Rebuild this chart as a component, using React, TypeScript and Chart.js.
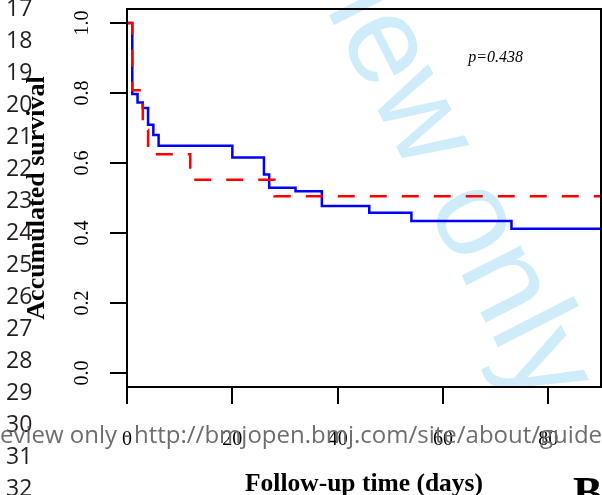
import React, { useEffect, useRef } from 'react';
import { Chart, registerables } from 'chart.js';

Chart.register(...registerables);

// ---- data ----
const blueTimes = [0, 1, 2, 3, 4, 5, 6, 20, 26, 27, 32, 37, 46, 54, 73, 90];
const blueSurvival = [1, 0.797, 0.773, 0.757, 0.709, 0.68, 0.649, 0.616, 0.567, 0.529, 0.519, 0.477, 0.458, 0.434, 0.412, 0.412];
const redTimes = [0, 1, 3, 4, 12, 28, 90];
const redSurvival = [1, 0.808, 0.694, 0.625, 0.552, 0.505, 0.505];
const xTicks = [0, 20, 40, 60, 80];
const yTicks = [0, 0.2, 0.4, 0.6, 0.8, 1.0];
const xTitle = 'Follow-up time (days)';
const yTitle = 'Accumulated survival';
const pLabel = 'p=0.438';
const pLabelX = 70;
const pLabelY = 0.9;
const lineNumbers = [17, 18, 19, 20, 21, 22, 23, 24, 25, 26, 27, 28, 29, 30, 31, 32];
const panelLetter = 'B';
const footerLeft = 'For peer review only -';
const footerRight = 'http://bmjopen.bmj.com/site/about/guidelines.xhtml';

const SERIF = '"Liberation Serif", "Times New Roman", serif';
const SANS = '"Open Sans", "Noto Sans", sans-serif';
const WM = '"Liberation Sans", Arial, sans-serif';

const boxPlugin = {
  id: 'boxAndText',
  afterDraw(chart: any) {
    const { ctx, chartArea, scales } = chart;
    ctx.save();
    ctx.strokeStyle = '#000';
    ctx.lineWidth = 2;
    ctx.strokeRect(chartArea.left, chartArea.top, chartArea.right - chartArea.left, chartArea.bottom - chartArea.top);
    ctx.font = `italic 16px ${SERIF}`;
    ctx.fillStyle = '#000';
    ctx.textAlign = 'center';
    ctx.textBaseline = 'middle';
    ctx.fillText(pLabel, scales.x.getPixelForValue(pLabelX), scales.y.getPixelForValue(pLabelY));
    ctx.restore();
  },
};

export default function App() {
  const canvasRef = useRef<HTMLCanvasElement | null>(null);

  useEffect(() => {
    if (!canvasRef.current) return;
    const chart = new Chart(canvasRef.current, {
      type: 'line',
      data: {
        datasets: [
          {
            label: 'red',
            data: redTimes.map((x, i) => ({ x, y: redSurvival[i] })),
            borderColor: '#ff0000',
            borderWidth: 2.5,
            borderDash: [17, 15],
            stepped: 'before',
            pointRadius: 0,
            fill: false,
            order: 0,
          },
          {
            label: 'blue',
            data: blueTimes.map((x, i) => ({ x, y: blueSurvival[i] })),
            borderColor: '#0000ff',
            borderWidth: 2.5,
            stepped: 'before',
            pointRadius: 0,
            fill: false,
            order: 1,
          },
        ],
      },
      options: {
        responsive: false,
        animation: false,
        layout: { padding: { top: 9, right: 1, left: 0, bottom: 0 } },
        plugins: { legend: { display: false }, tooltip: { enabled: false } },
        scales: {
          x: {
            type: 'linear',
            min: 0,
            max: 90,
            afterBuildTicks: (s: any) => {
              s.ticks = xTicks.map((value) => ({ value }));
            },
            afterFit: (s: any) => {
              s.height = 108;
              s.paddingLeft = 0;
              s.paddingRight = 0;
            },
            ticks: {
              font: { family: SERIF, size: 20 },
              color: '#000',
              padding: 24,
              maxRotation: 0,
              autoSkip: false,
              callback: (v: any) => String(v),
            },
            grid: { drawOnChartArea: false, drawTicks: true, tickLength: 17, color: '#000', lineWidth: 2 },
            border: { display: true, color: '#000', width: 2 },
            title: {
              display: true,
              text: xTitle,
              color: '#000',
              font: { family: SERIF, size: 25.5, weight: 'bold', lineHeight: 0.8 },
              padding: 0,
            },
          },
          y: {
            type: 'linear',
            min: -0.04,
            max: 1.04,
            afterBuildTicks: (s: any) => {
              s.ticks = yTicks.map((value) => ({ value }));
            },
            afterFit: (s: any) => {
              s.width = 127;
              s.paddingTop = 0;
              s.paddingBottom = 0;
            },
            ticks: {
              font: { family: SERIF, size: 20 },
              color: '#000',
              padding: 15,
              minRotation: 90,
              maxRotation: 90,
              crossAlign: 'center',
              autoSkip: false,
              callback: (v: any) => Number(v).toFixed(1),
            },
            grid: { drawOnChartArea: false, drawTicks: true, tickLength: 17, color: '#000', lineWidth: 2 },
            border: { display: true, color: '#000', width: 2 },
            title: {
              display: true,
              text: yTitle,
              color: '#000',
              font: { family: SERIF, size: 26, weight: 'bold', lineHeight: 1.2 },
              padding: { top: 22, bottom: 0 },
            },
          },
        },
      } as any,
      plugins: [boxPlugin],
    });
    return () => chart.destroy();
  }, []);

  const wmColor = 'rgb(206,236,250)';
  return (
    <div style={{ position: 'fixed', left: 0, top: 0, width: 602, height: 495, overflow: 'hidden', background: '#fff' }}>
      <svg width={602} height={495} style={{ position: 'absolute', left: 0, top: 0 }}>
        <text x={410.4} y={174.8} textAnchor="end" transform="rotate(63 410.4 174.8)" fontFamily={WM} fontSize={125} fill={wmColor}>For peer review</text>
        <text x={426.2} y={205.8} transform="rotate(63 426.2 205.8)" fontFamily={WM} fontSize={125} fill={wmColor}>only</text>
      </svg>
      <canvas ref={canvasRef} width={602} height={495} style={{ position: 'absolute', left: 0, top: 0 }} />
      <svg width={602} height={495} style={{ position: 'absolute', left: 0, top: 0, pointerEvents: 'none' }}>
        {lineNumbers.map((n, i) => (
          <text key={n} x={6} y={16 + 32 * i} fontFamily={SANS} fontSize={23} fill="#231f20">{n}</text>
        ))}
        <text x={131} y={443} textAnchor="end" fontFamily={SANS} fontSize={24} fill="#6e6e6e">{footerLeft}</text>
        <text x={134} y={443} fontFamily={SANS} fontSize={24} fill="#6e6e6e">{footerRight}</text>
        <text x={573} y={507} fontFamily={SERIF} fontWeight="bold" fontSize={44} fill="#000">{panelLetter}</text>
      </svg>
    </div>
  );
}
